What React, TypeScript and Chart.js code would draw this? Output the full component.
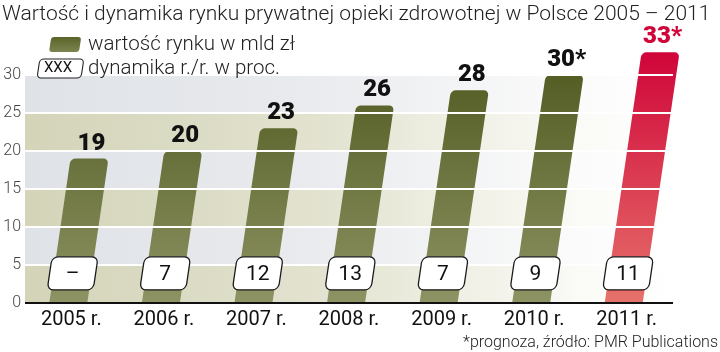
import React, { useEffect, useRef } from "react";
import { Chart, registerables } from "chart.js";

Chart.register(...registerables);

const TITLE = "Wartość i dynamika rynku prywatnej opieki zdrowotnej w Polsce 2005 – 2011";
const LEGEND_VALUE = "wartość rynku w mld zł";
const LEGEND_DYN = "dynamika r./r. w proc.";
const LEGEND_BOX = "XXX";
const FOOTNOTE = "*prognoza, źródło: PMR Publications";

const years = ["2005 r.", "2006 r.", "2007 r.", "2008 r.", "2009 r.", "2010 r.", "2011 r."];
const marketValue = [19, 20, 23, 26, 28, 30, 33];
const valueLabels = ["19", "20", "23", "26", "28", "30*", "33*"];
const growth = ["–", "7", "12", "13", "7", "9", "11"];
const forecast = [false, false, false, false, false, false, true];
const yMin = 0;
const yMax = 30;
const yStep = 5;

const SANS = 'Roboto, "Noto Sans", sans-serif';

const SKEW = 0.147;
const BAR_W = 38;
const BAR_SHIFT = -3;

const skewPlugin = {
  id: "skewBars",
  beforeDatasetsDraw(chart: any) {
    const { ctx, chartArea } = chart;
    const ys = chart.scales.y;
    ctx.save();
    for (let v = yMin; v < yMax; v += yStep) {
      const top = ys.getPixelForValue(v + yStep);
      const bot = ys.getPixelForValue(v);
      const tan = (v / yStep) % 2 === 0;
      const g = ctx.createLinearGradient(chartArea.left, 0, chartArea.right, 0);
      if (tan) {
        g.addColorStop(0, "#d3d4b8");
        g.addColorStop(0.45, "#e2e2cf");
        g.addColorStop(0.85, "#fafaf6");
        g.addColorStop(1, "#ffffff");
      } else {
        g.addColorStop(0, "#dfe2e7");
        g.addColorStop(0.45, "#e9ebee");
        g.addColorStop(0.85, "#fbfbfb");
        g.addColorStop(1, "#ffffff");
      }
      ctx.fillStyle = g;
      ctx.fillRect(chartArea.left, top, chartArea.right - chartArea.left, bot - top);
    }
    ctx.restore();
  },
  afterDatasetsDraw(chart: any) {
    const { ctx, chartArea } = chart;
    const ys = chart.scales.y;
    const meta = chart.getDatasetMeta(0);
    const base = ys.getPixelForValue(0);
    const topRef = ys.getPixelForValue(33);

    // bars
    meta.data.forEach((el: any, i: number) => {
      const cx = el.x + BAR_SHIFT;
      const top = el.y;
      ctx.save();
      ctx.transform(1, 0, -SKEW, 1, SKEW * base, 0);
      const g = ctx.createLinearGradient(0, topRef, 0, base);
      if (forecast[i]) {
        g.addColorStop(0, "#d00539");
        g.addColorStop(1, "#e6726b");
      } else {
        g.addColorStop(0, "#4e581e");
        g.addColorStop(1, "#8d9363");
      }
      ctx.fillStyle = g;
      ctx.beginPath();
      (ctx as any).roundRect(cx - BAR_W / 2, top, BAR_W, base - top, [5, 5, 0, 0]);
      ctx.fill();
      ctx.restore();
    });

    // white grid lines over bars
    ctx.save();
    ctx.strokeStyle = "#ffffff";
    ctx.lineWidth = 2;
    for (let v = yMin + yStep; v < yMax + yStep; v += yStep) {
      const y = Math.round(ys.getPixelForValue(v));
      ctx.beginPath();
      ctx.moveTo(chartArea.left, y);
      ctx.lineTo(chartArea.right, y);
      ctx.stroke();
    }
    ctx.restore();

    // axis line
    ctx.save();
    ctx.strokeStyle = "#111";
    ctx.lineWidth = 2;
    ctx.beginPath();
    ctx.moveTo(chartArea.left, base);
    ctx.lineTo(chartArea.right, base);
    ctx.stroke();
    ctx.restore();

    // growth boxes and value labels
    const boxC = ys.getPixelForValue(3.9);
    meta.data.forEach((el: any, i: number) => {
      const cx = el.x + BAR_SHIFT;
      ctx.save();
      ctx.transform(1, 0, -SKEW, 1, SKEW * base, 0);
      ctx.beginPath();
      (ctx as any).roundRect(cx - 23, boxC - 16.5, 46, 33, 6);
      ctx.fillStyle = "#ffffff";
      ctx.fill();
      ctx.strokeStyle = "#1a1a1a";
      ctx.lineWidth = 1.3;
      ctx.stroke();
      ctx.restore();

      const bx = cx + SKEW * (base - boxC);
      ctx.save();
      ctx.fillStyle = "#111";
      ctx.font = `400 21px ${SANS}`;
      ctx.textAlign = "center";
      ctx.textBaseline = "middle";
      ctx.fillText(growth[i], bx, boxC + 1);
      ctx.restore();

      const top = el.y;
      const tx = cx + SKEW * (base - top);
      ctx.save();
      ctx.fillStyle = forecast[i] ? "#d00539" : "#111";
      ctx.font = `900 24px ${SANS}`;
      ctx.textAlign = "center";
      ctx.textBaseline = "alphabetic";
      ctx.fillText(valueLabels[i], tx + 2, top - 9);
      ctx.restore();
    });
  },
  afterDraw(chart: any) {
    const { ctx } = chart;
    ctx.save();
    ctx.fillStyle = "#222";
    ctx.font = `300 21px ${SANS}`;
    ctx.textAlign = "left";
    ctx.textBaseline = "alphabetic";
    ctx.fillText(TITLE, 2, 20);

    ctx.font = `300 20.5px ${SANS}`;
    ctx.fillText(LEGEND_VALUE, 88, 50);
    ctx.fillText(LEGEND_DYN, 88, 74);

    // legend swatch
    const sk = 0.15;
    ctx.save();
    ctx.transform(1, 0, -sk, 1, sk * 52, 0);
    const g = ctx.createLinearGradient(0, 37, 0, 52);
    g.addColorStop(0, "#5a6428");
    g.addColorStop(1, "#7c8450");
    ctx.fillStyle = g;
    ctx.beginPath();
    (ctx as any).roundRect(49, 37, 30, 15, 3);
    ctx.fill();
    ctx.restore();

    ctx.save();
    ctx.transform(1, 0, -sk, 1, sk * 78, 0);
    ctx.beginPath();
    (ctx as any).roundRect(37, 59, 44, 19, 4);
    ctx.fillStyle = "#fff";
    ctx.fill();
    ctx.strokeStyle = "#222";
    ctx.lineWidth = 1.1;
    ctx.stroke();
    ctx.restore();

    ctx.fillStyle = "#111";
    ctx.font = `400 15px ${SANS}`;
    ctx.textAlign = "center";
    ctx.textBaseline = "middle";
    ctx.fillText(LEGEND_BOX, 58, 68);

    ctx.fillStyle = "#222";
    ctx.font = `300 16px ${SANS}`;
    ctx.textAlign = "right";
    ctx.textBaseline = "alphabetic";
    ctx.fillText(FOOTNOTE, 718, 347);
    ctx.restore();
  },
};

export default function App() {
  const ref = useRef<HTMLCanvasElement | null>(null);
  useEffect(() => {
    document.body.style.margin = "0";
    const canvas = ref.current;
    if (!canvas) return;
    const chart = new Chart(canvas, {
      type: "bar",
      data: {
        labels: years,
        datasets: [
          {
            data: marketValue,
            backgroundColor: "rgba(0,0,0,0)",
            borderWidth: 0,
            barThickness: BAR_W,
            clip: false as any,
          },
        ],
      },
      options: {
        responsive: false,
        animation: false,
        devicePixelRatio: 1,
        layout: { padding: { top: 75, right: 47, left: 0, bottom: 0 } },
        plugins: {
          legend: { display: false },
          tooltip: { enabled: false },
          title: { display: false },
        },
        scales: {
          x: {
            grid: { display: false, drawTicks: false },
            border: { display: false },
            ticks: { color: "#111", font: { family: SANS, size: 20 }, padding: 5, maxRotation: 0 },
            afterFit: (s: any) => {
              s.height = 49;
            },
          },
          y: {
            min: yMin,
            max: yMax,
            grid: { display: false, drawTicks: false },
            border: { display: false },
            ticks: {
              stepSize: yStep,
              color: "#444",
              font: { family: SANS, weight: "300" as any, size: 16 },
              padding: 4,
            },
            afterFit: (s: any) => {
              s.width = 25;
            },
          },
        },
      },
      plugins: [skewPlugin],
    });
    return () => chart.destroy();
  }, []);
  return <canvas ref={ref} width={720} height={352} style={{ display: "block", width: 720, height: 352 }} />;
}
